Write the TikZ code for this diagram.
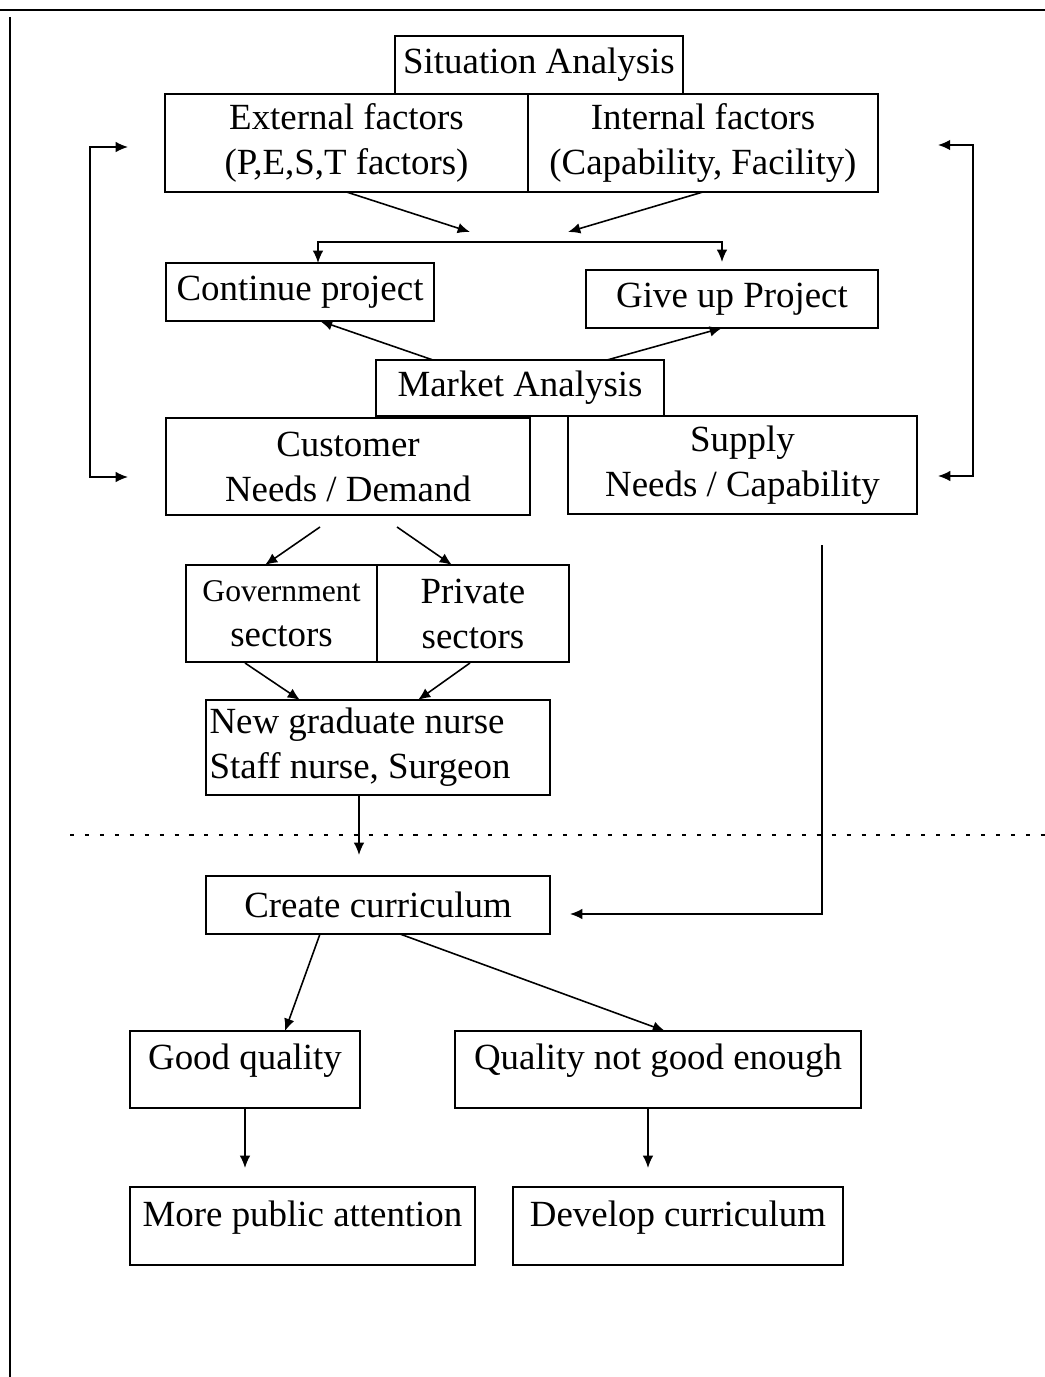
\documentclass[tikz,border=0pt]{standalone}
\usepackage{fontspec}
\setmainfont{Liberation Serif}
\usetikzlibrary{positioning, arrows.meta, calc}

\begin{document}
\begin{tikzpicture}[
    x=0.02cm, y=-0.02cm,
    >={Latex[length=7pt,width=6pt]},
    every node/.style={font=\fontsize{21}{25.6}\selectfont},
    box/.style={draw, line width=1.1pt, inner sep=2pt, outer sep=0pt, align=center},
    outcome/.style={text height=15pt, text depth=15pt},
    arrow/.style={->, line width=0.9pt},
    both/.style={<->, line width=0.9pt},
    frame/.style={line width=1.3pt},
    cut/.style={line width=1.5pt, dash pattern=on 2.3pt off 6.2pt}
]
\useasboundingbox (0,0) rectangle (1045,1377);

% Page frame
\draw[frame] (0,10) -- (1045,10);
\draw[frame] (10,17) -- (10,1377);

% Situation analysis
\node[box, minimum width=5.76cm, minimum height=1.16cm] (situation) at (539,65) {Situation Analysis};
\node[box, minimum width=7.26cm, minimum height=1.96cm] (external) at (346.5,143) {External factors\\(P,E,S,T factors)};
\node[box, minimum width=7.0cm, minimum height=1.96cm, anchor=west] (internal) at (external.east) {Internal factors\\(Capability, Facility)};

\coordinate (joinL) at (470,232);
\coordinate (joinR) at (568,232);
\draw[arrow] (external.south) -- (joinL);
\draw[arrow] (internal.south) -- (joinR);

% Decision
\node[box, minimum width=5.36cm, minimum height=1.16cm] (continue) at (300,292) {Continue project};
\node[box, minimum width=5.84cm, minimum height=1.16cm] (giveup) at (732,299) {Give up Project};

\coordinate (forkL) at (318,242);
\coordinate (forkR) at (722,242);
\coordinate (forkEnd) at (722,262);
\draw[both] (continue.north -| forkL) |- (forkR) -- (forkEnd);

% Market analysis
\node[box, minimum width=5.76cm, minimum height=1.12cm] (market) at (520,388) {Market Analysis};
\draw[arrow] ($(market.north)+(-87,0)$) -- ($(continue.south)+(20,0)$);
\draw[arrow] ($(market.north)+(87,0)$) -- ($(giveup.south)+(-10,0)$);

\node[box, minimum width=7.28cm, minimum height=1.94cm] (customer) at (348,466.5) {Customer\\Needs / Demand};
\node[box, minimum width=6.98cm, minimum height=1.96cm] (supply) at (742.5,465) {Supply\\Needs / Capability};

% Feedback loops
\coordinate (loopL) at (90,477);
\coordinate (loopR) at (973,476);
\draw[both] ($(external.west)+(-37,4)$) -| (loopL) -- ($(customer.west)+(-38,10.5)$);
\draw[both] ($(internal.east)+(60,2)$) -| (loopR) -- ($(supply.east)+(21,11)$);

% Sectors
\node[box, minimum width=3.82cm, minimum height=1.94cm] (government) at (281.5,613.5) {{\fontsize{18}{25.6}\selectfont Government}\\sectors};
\node[box, minimum width=3.84cm, minimum height=1.94cm, anchor=west] (private) at (government.east) {Private\\sectors};
\draw[arrow] ($(customer.south)+(-28,12)$) -- ($(government.north)+(-16.5,0)$);
\draw[arrow] ($(customer.south)+(49,12)$) -- ($(private.north)+(-21,0)$);

\node[box, minimum height=1.9cm, text width=6.74cm, align=flush left] (staff) at (378,747.5) {New graduate nurse\\Staff nurse, Surgeon};
\draw[arrow] ($(government.south)+(-36.5,1)$) -- ($(staff.north)+(-78,0)$);
\draw[arrow] ($(private.south)+(-3,1)$) -- ($(staff.north)+(40,0)$);

% Divider
\coordinate (cutL) at (70,835);
\coordinate (cutR) at (1045,835);
\draw[cut] (cutL) -- (cutR);

\coordinate (staffEnd) at (359,855);
\draw[arrow] (staff.south -| staffEnd) -- (staffEnd);

% Curriculum
\node[box, minimum width=6.88cm, minimum height=1.16cm] (create) at (378,905) {Create curriculum};
\coordinate (supplyTurn) at (822,914);
\draw[arrow] ($(supply.south)+(79.5,31)$) -- (supplyTurn) -- ($(create.east)+(20,9)$);

% Outcomes
\node[box, outcome, minimum width=4.6cm, minimum height=1.54cm] (good) at (245,1069.5) {Good quality};
\node[box, outcome, minimum width=8.12cm, minimum height=1.54cm] (notgood) at (658,1069.5) {Quality not good enough};
\draw[arrow] ($(create.south)+(-58,0)$) -- ($(good.north)+(40,0)$);
\draw[arrow] ($(create.south)+(22,0)$) -- ($(notgood.north)+(7,0)$);

\node[box, outcome, minimum width=6.9cm, minimum height=1.56cm] (attention) at (302.5,1226) {More public attention};
\node[box, outcome, minimum width=6.6cm, minimum height=1.56cm] (develop) at (678,1226) {Develop curriculum};

\coordinate (goodEnd) at (245,1168);
\coordinate (notgoodEnd) at (648,1168);
\draw[arrow] (good.south) -- (goodEnd);
\draw[arrow] (notgood.south -| notgoodEnd) -- (notgoodEnd);

\end{tikzpicture}
\end{document}
